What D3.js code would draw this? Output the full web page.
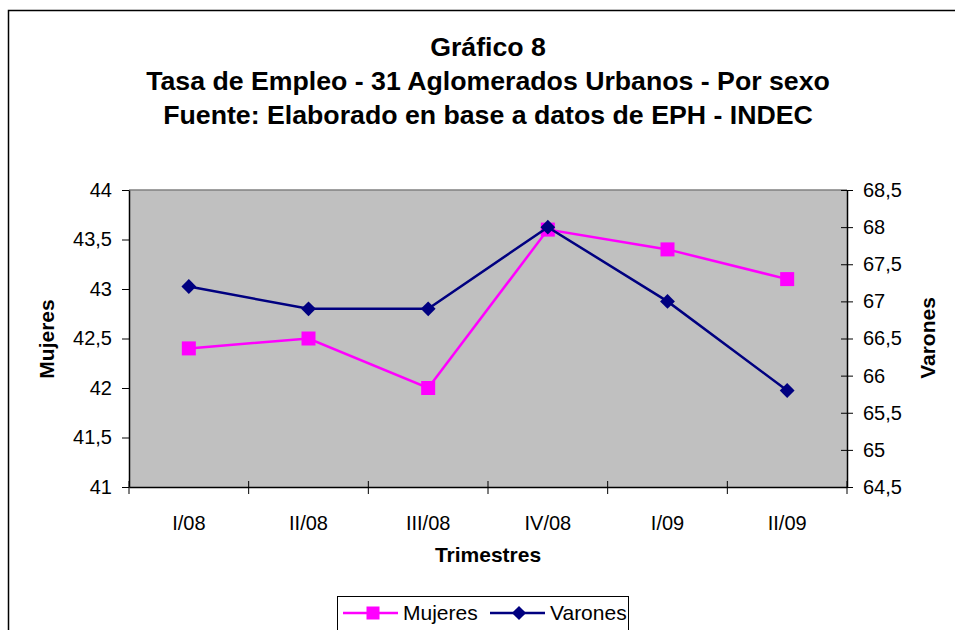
<!DOCTYPE html>
<html>
<head>
<meta charset="utf-8">
<script src="https://cdn.jsdelivr.net/npm/d3@7"></script>
<style>
  body { margin: 0; background: #fff; }
  text { font-family: "Liberation Sans", Arial, sans-serif; }
</style>
</head>
<body>
<div id="chart"></div>
<script>
var trimestres = ["I/08", "II/08", "III/08", "IV/08", "I/09", "II/09"];
var mujeres = [42.4, 42.5, 42.0, 43.6, 43.4, 43.1];
var varones = [67.2, 66.9, 66.9, 68.0, 67.0, 65.8];
var leftTicks = [41, 41.5, 42, 42.5, 43, 43.5, 44];
var rightTicks = [64.5, 65, 65.5, 66, 66.5, 67, 67.5, 68, 68.5];
var titles = ["Gráfico 8",
    "Tasa de Empleo - 31 Aglomerados Urbanos - Por sexo",
    "Fuente: Elaborado en base a datos de EPH - INDEC"];

const W = 955, H = 630;
const plot = {left: 129, right: 847, top: 190, bottom: 487};
const fmt = d => String(d).replace(".", ",");

var svg = d3.select('#chart').append('svg')
    .attr('width', W).attr('height', H);

// outer chart border (runs off the right and bottom edges)
svg.append('rect')
    .attr('x', 8.5).attr('y', 10.5)
    .attr('width', 1000).attr('height', 700)
    .attr('fill', 'none').attr('stroke', '#000').attr('stroke-width', 1.5);

titles.forEach(function(t, i){
    svg.append('text')
        .attr('x', 488).attr('y', 56 + 34*i)
        .attr('text-anchor', 'middle')
        .attr('font-size', '26.7px').attr('font-weight', 'bold')
        .text(t);
});

var x = d3.scaleBand().domain(trimestres).range([plot.left, plot.right]);
var yL = d3.scaleLinear().domain([41, 44]).range([plot.bottom, plot.top]);
var yR = d3.scaleLinear().domain([64.5, 68.5]).range([plot.bottom, plot.top]);

// plot area
svg.append('rect')
    .attr('x', plot.left).attr('y', plot.top)
    .attr('width', plot.right - plot.left).attr('height', plot.bottom - plot.top)
    .attr('fill', '#c0c0c0');
svg.append('line')
    .attr('x1', plot.left).attr('x2', plot.right)
    .attr('y1', plot.top).attr('y2', plot.top)
    .attr('stroke', '#808080').attr('stroke-width', 1.5);

// axes
var axL = svg.append('g').attr('transform', 'translate(' + plot.left + ',0)')
    .call(d3.axisLeft(yL).tickValues(leftTicks).tickFormat(fmt).tickSize(7).tickSizeOuter(0));
var axR = svg.append('g').attr('transform', 'translate(' + plot.right + ',0)')
    .call(d3.axisRight(yR).tickValues(rightTicks).tickFormat(fmt).tickSize(7).tickSizeOuter(0));
var axX = svg.append('g').attr('transform', 'translate(0,' + plot.bottom + ')')
    .call(d3.axisBottom(x).tickSize(0).tickSizeOuter(0));

// right ticks cross the axis line
axR.selectAll('.tick line').attr('x1', -6).attr('x2', 6);

[axL, axR, axX].forEach(function(a){
    a.attr('font-size', null).attr('font-family', null);
    a.select('.domain').attr('stroke', '#000').attr('stroke-width', 1.5);
    a.selectAll('.tick line').attr('stroke', '#000');
    a.selectAll('text').style('font-size', '20px').attr('fill', '#000');
});
axL.selectAll('text').attr('x', -17);
axR.selectAll('text').attr('x', 16);
axX.selectAll('text').attr('dy', '0').attr('y', 43);

// x category boundary ticks
svg.append('g').selectAll('line')
    .data(trimestres.concat(['end']))
    .enter().append('line')
    .attr('x1', (d, i) => plot.left + i*x.step())
    .attr('x2', (d, i) => plot.left + i*x.step())
    .attr('y1', plot.bottom - 6).attr('y2', plot.bottom + 7)
    .attr('stroke', '#000');

// axis titles
svg.append('text')
    .attr('transform', 'translate(54,339) rotate(-90)')
    .attr('text-anchor', 'middle').attr('font-size', '21px').attr('font-weight', 'bold')
    .text('Mujeres');
svg.append('text')
    .attr('transform', 'translate(935,338) rotate(-90)')
    .attr('text-anchor', 'middle').attr('font-size', '21px').attr('font-weight', 'bold')
    .text('Varones');
svg.append('text')
    .attr('x', 488).attr('y', 562)
    .attr('text-anchor', 'middle').attr('font-size', '21px').attr('font-weight', 'bold')
    .text('Trimestres');

var cx = d => x(d) + x.bandwidth()/2;

// Mujeres series
svg.append('path')
    .datum(mujeres)
    .attr('d', d3.line().x((d, i) => cx(trimestres[i])).y(d => yL(d)))
    .attr('fill', 'none').attr('stroke', '#ff00ff').attr('stroke-width', 2.5);

svg.append('g').selectAll('rect')
    .data(mujeres).enter().append('rect')
    .attr('x', (d, i) => cx(trimestres[i]) - 7)
    .attr('y', d => yL(d) - 7)
    .attr('width', 14).attr('height', 14)
    .attr('fill', '#ff00ff');

// Varones series
svg.append('path')
    .datum(varones)
    .attr('d', d3.line().x((d, i) => cx(trimestres[i])).y(d => yR(d)))
    .attr('fill', 'none').attr('stroke', '#000080').attr('stroke-width', 2.5);

svg.append('g').selectAll('path')
    .data(varones).enter().append('path')
    .attr('d', d3.symbol().type(d3.symbolSquare).size(110))
    .attr('transform', (d, i) => 'translate(' + cx(trimestres[i]) + ',' + yR(d) + ') rotate(45)')
    .attr('fill', '#000080');

// legend
var leg = svg.append('g');
leg.append('rect')
    .attr('x', 337.5).attr('y', 596.5)
    .attr('width', 291).attr('height', 60)
    .attr('fill', '#fff').attr('stroke', '#000').attr('stroke-width', 1);
var legItems = [
    {name: 'Mujeres', color: '#ff00ff', x: 343, shape: 'square'},
    {name: 'Varones', color: '#000080', x: 490, shape: 'diamond'}
];
legItems.forEach(function(it){
    var ly = 613;
    leg.append('line')
        .attr('x1', it.x).attr('x2', it.x + 55)
        .attr('y1', ly).attr('y2', ly)
        .attr('stroke', it.color).attr('stroke-width', 2.5);
    if(it.shape == 'square'){
        leg.append('rect')
            .attr('x', it.x + 30 - 6.5).attr('y', ly - 6.5)
            .attr('width', 13).attr('height', 13).attr('fill', it.color);
    } else {
        leg.append('path')
            .attr('d', d3.symbol().type(d3.symbolSquare).size(100))
            .attr('transform', 'translate(' + (it.x + 29) + ',' + ly + ') rotate(45)')
            .attr('fill', it.color);
    }
    leg.append('text')
        .attr('x', it.x + 60).attr('y', ly + 7)
        .attr('font-size', '21px')
        .text(it.name);
});
</script>
</body>
</html>
